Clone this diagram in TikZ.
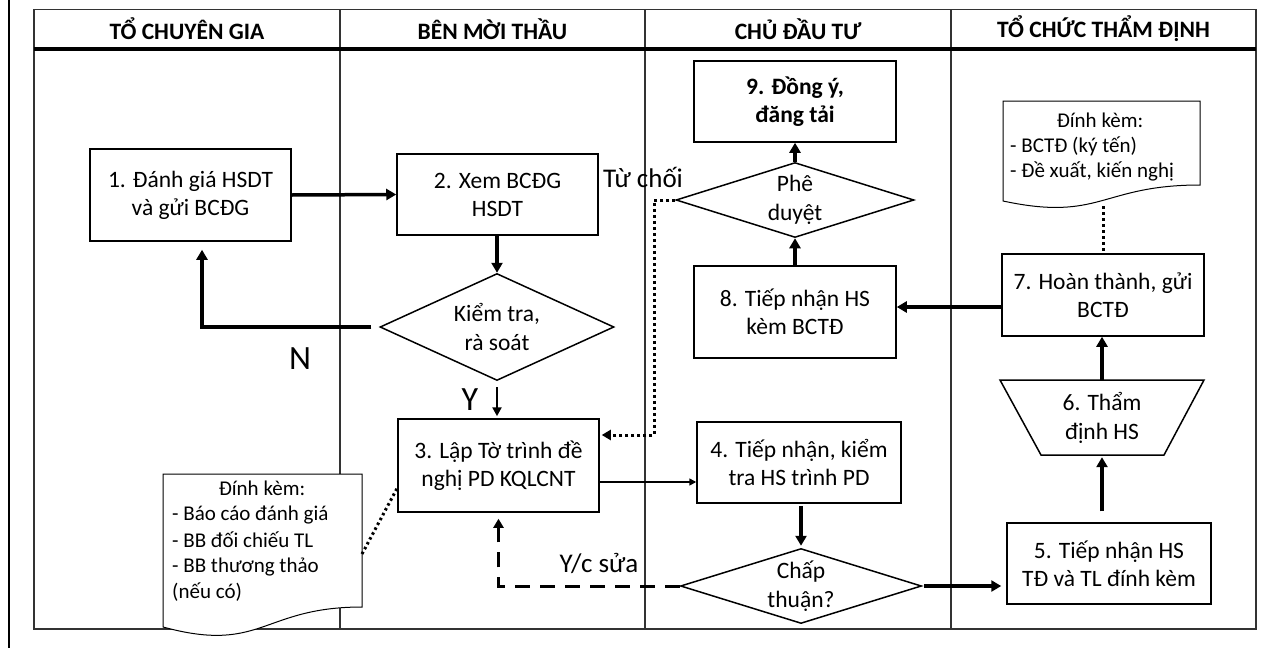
\documentclass[tikz,border=0pt]{standalone}
\usepackage{fontspec}
\setmainfont{Carlito}
\usetikzlibrary{shapes.geometric,arrows.meta,calc}
\begin{document}
\begin{tikzpicture}[x=1pt,y=-1pt,
  box/.style={draw, line width=1.5pt, align=center, inner sep=0pt, font=\fontsize{23.5}{28}\selectfont},
  dia/.style={draw, diamond, line width=1.5pt, inner sep=0pt},
  txt/.style={align=center, inner sep=0pt, font=\fontsize{23.5}{29}\selectfont},
  hdr/.style={inner sep=0pt, font=\fontsize{23.5}{28}\selectfont\bfseries},
  lbl/.style={inner sep=0pt, font=\fontsize{27}{32}\selectfont},
  big/.style={inner sep=0pt, font=\fontsize{34}{40}\selectfont},
  doctxt/.style={inner sep=0pt, font=\fontsize{21}{25}\selectfont},
  docshape/.style={draw, line width=1pt, fill=white},
  flow/.style={line width=3.5pt, -{Triangle[length=10pt,width=11pt]}},
  flowmid/.style={line width=2.5pt, -{Triangle[length=9pt,width=9pt]}},
  flowthin/.style={line width=1.5pt, -{Triangle[length=7pt,width=7pt]}},
  dotconn/.style={line width=3pt, dash pattern=on 3pt off 3pt, -{Triangle[length=9pt,width=10pt]}},
  dotline/.style={line width=3pt, dash pattern=on 3pt off 3pt},
  dashconn/.style={line width=3pt, dash pattern=on 15pt off 10pt, -{Triangle[length=9pt,width=10pt]}},
  grid/.style={line width=1.5pt, draw=black!80}
]
\useasboundingbox (0,0) rectangle (1261,648);
% page line
\draw[line width=2.5pt] (9,0) -- (9,648);
% swimlane table
\draw[grid] (34,9.5) rectangle (1256,629);
\draw[grid] (340,9.5) -- (340,629);
\draw[grid] (645,9.5) -- (645,629);
\draw[grid] (951,9.5) -- (951,629);
\draw[line width=4pt] (34,49) -- (1256,49);
\node[hdr] (h1) at (187,29) {TỔ CHUYÊN GIA};
\node[hdr] (h2) at (492.5,29) {BÊN MỜI THẦU};
\node[hdr] (h3) at (798,29) {CHỦ ĐẦU TƯ};
\node[hdr] (h4) at (1103.5,29) {TỔ CHỨC THẨM ĐỊNH};

% nodes
\node[box, minimum width=201pt, minimum height=92pt] (b1) at (190.5,195) {1. Đánh giá HSDT\\và gửi BCĐG};
\node[box, minimum width=201pt, minimum height=81pt] (b2) at (497.5,194.5) {2. Xem BCĐG\\HSDT};
\node[dia, minimum width=234pt, minimum height=107pt] (k) at (497,327) {};
\node[txt] (kt) at (k) {Kiểm tra,\\rà soát};
\node[box, minimum width=201pt, minimum height=93pt] (b3) at (498.5,465.5) {3. Lập Tờ trình đề\\nghị PD KQLCNT};
\node[box, minimum width=204pt, minimum height=81pt] (b4) at (799,462.5) {4. Tiếp nhận, kiểm\\tra HS trình PD};
\node[dia, minimum width=241pt, minimum height=75pt] (c) at (801,586) {};
\node[txt] (ct) at (c) {Chấp\\thuận?};
\node[box, minimum width=204pt, minimum height=81pt] (b5) at (1109,563.5) {5. Tiếp nhận HS\\TĐ và TL đính kèm};
\draw[line width=1.5pt] (1000,380) -- (1204,380) -- (1164,455) -- (1041,455) -- cycle;
\node[txt, minimum width=160pt, minimum height=75pt] (t6) at (1102,417.5) {6. Thẩm\\định HS};
\node[box, minimum width=202pt, minimum height=82pt] (b7) at (1103,295) {7. Hoàn thành, gửi\\BCTĐ};
\node[box, minimum width=202pt, minimum height=92pt] (b8) at (795,312) {8. Tiếp nhận HS\\kèm BCTĐ};
\node[dia, minimum width=238pt, minimum height=75pt] (p) at (795,200) {};
\node[txt] (pt) at (p) {Phê\\duyệt};
\node[box, minimum width=202pt, minimum height=81pt, font=\fontsize{23.5}{28}\selectfont\bfseries] (b9) at (795,101.5) {9. Đồng ý,\\đăng tải};

% documents
\draw[docshape] (1003,101) -- (1200,101) -- (1200,185) .. controls (1101,185) and (1101,222) .. (1003,201) -- cycle;
\node[doctxt, anchor=base] (d7a) at (1100,127) {Đính kèm:};
\node[doctxt, anchor=base west] (d7b) at (1010,152) {- BCTĐ (ký tến)};
\node[doctxt, anchor=base west] (d7c) at (1010,177) {- Đề xuất, kiến nghị};
\coordinate (d7) at (1103,206);

\draw[docshape] (163,474) -- (362,474) -- (362,607) .. controls (262,607) and (262,654) .. (163,627) -- cycle;
\node[doctxt, anchor=base] (d3a) at (262,495) {Đính kèm:};
\node[doctxt, anchor=base west] (d3b) at (172,520) {- Báo cáo đánh giá};
\node[doctxt, anchor=base west] (d3c) at (172,547) {- BB đối chiếu TL};
\node[doctxt, anchor=base west] (d3d) at (172,572) {- BB thương thảo};
\node[doctxt, anchor=base west] (d3e) at (172,598) {(nếu có)};
\coordinate (d3) at (362,554);

% labels
\node[lbl] (lt) at (643,177) {Từ chối};
\node[lbl] (ly) at (599,563) {Y/c sửa};
\node[big] (ln) at (300,359) {N};
\node[big] (lyes) at (470,400) {Y};

% helper coordinates
\coordinate (y34) at (0,482);
\coordinate (y78) at (0,307);
\coordinate (y3d) at (0,435);
\coordinate (xdot) at (654,0);

% connectors
\draw[flow] (b1.east) -- (b2.west);
\draw[flow] (b2.south -| k.north) -- (k.north);
\draw[flow, shorten <=8pt, shorten >=8pt] (k.west) -| ([xshift=11.5pt]b1.south);
\draw[flowmid, shorten <=6pt, shorten >=2pt] (k.south) -- (k.south |- b3.north);
\draw[flowthin] (b3.east |- y34) -- (b4.west |- y34);
\draw[flow, shorten <=2pt, shorten >=2pt] (c.north |- b4.south) -- (c.north);
\draw[flow, shorten <=2pt, shorten >=5pt] (c.east) -- (c.east -| b5.west);
\draw[dashconn, shorten >=6pt] (c.west) -| (b3.south);
\draw[flow, shorten <=11pt, shorten >=2pt] (b5.north -| t6.south) -- (t6.south);
\draw[flow] (t6.north) -- (t6.north |- b7.south);
\draw[flow] (b7.west |- y78) -- (b8.east |- y78);
\draw[flow] (b8.north) -- (p.south);
\draw[flow] (p.north) -- (b9.south);
\draw[dotconn, shorten >=2pt] (p.west) -- (p.west -| xdot) -- (xdot |- y3d) -- (b3.east |- y3d);
\draw[dotline] (d7) -- (d7 |- b7.north);
\draw[line width=3pt, dash pattern=on 2.5pt off 3pt] (d3) -- ([yshift=-22.5pt]b3.west);
\end{tikzpicture}
\end{document}
